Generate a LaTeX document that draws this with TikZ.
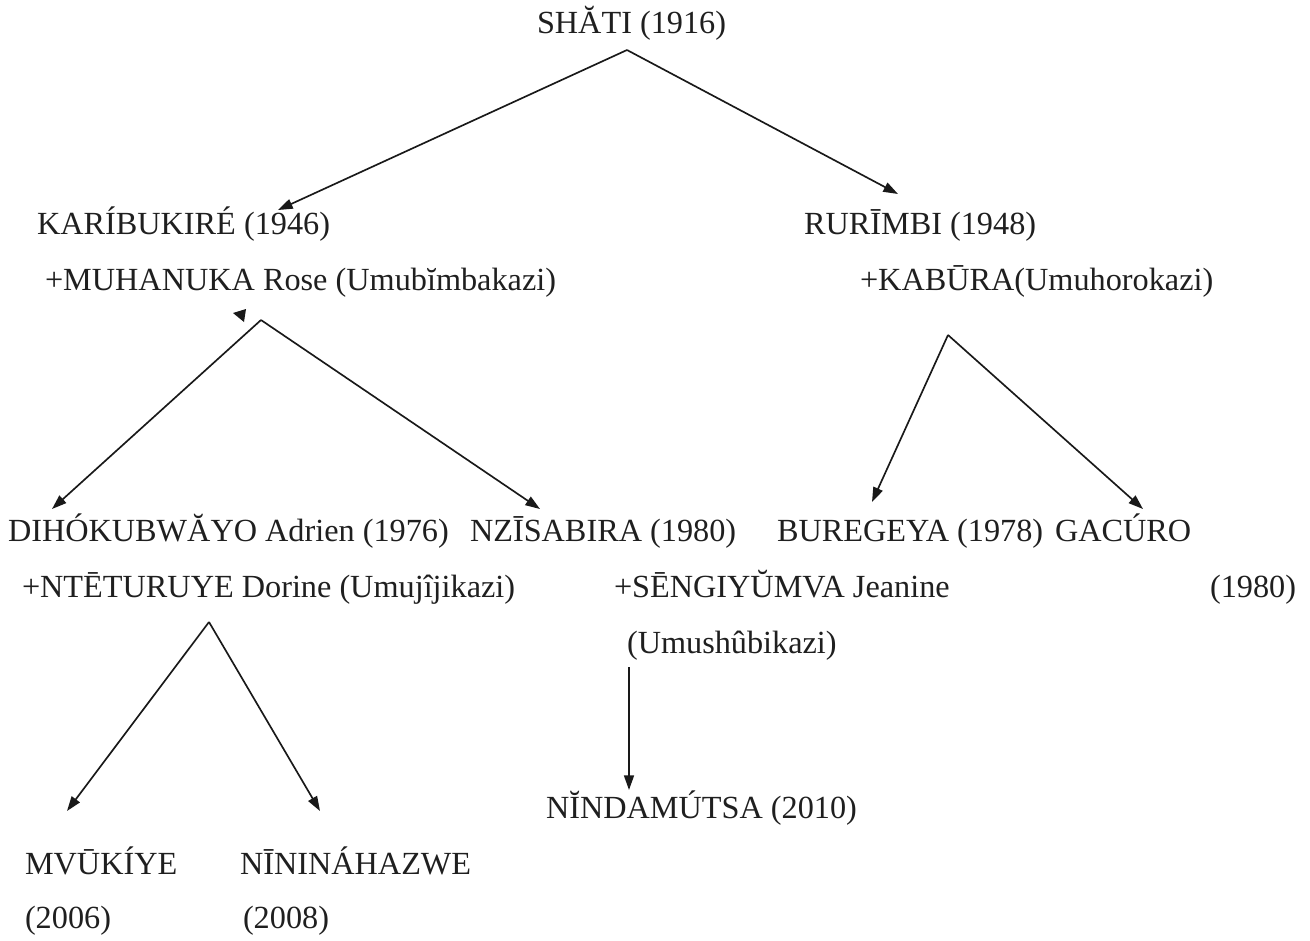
\documentclass[tikz,border=0pt]{standalone}
\usepackage{fontspec}
\setmainfont{Liberation Serif}
\usetikzlibrary{arrows.meta}
\begin{document}
\begin{tikzpicture}[x=0.75pt,y=-0.75pt,
  lbl/.style={anchor=base west,inner sep=0pt,outer sep=0pt,text=black!88,font=\fontsize{24.2}{28}\selectfont},
  arr/.style={draw=black!90,line width=1.25pt,-{Triangle[length=11pt,width=7.5pt]}}]
\useasboundingbox (0,0) rectangle (1310,940);
% text nodes
\node[lbl] (shati) at (537,33) {SHĂTI (1916)};
\node[lbl] (kari) at (37,234) {KARÍBUKIRÉ (1946)};
\node[lbl] (muha) at (45,290) {+MUHANUKA Rose (Umubĭmbakazi)};
\node[lbl] (rurimbi) at (804,234) {RURĪMBI (1948)};
\node[lbl] (kabura) at (860,290) {+KABŪRA(Umuhorokazi)};
\node[lbl] (diho) at (8,541) {DIHÓKUBWĂYO Adrien (1976)};
\node[lbl] (nteturuye) at (22,597) {+NTĒTURUYE Dorine (Umujîjikazi)};
\node[lbl] (nzisabira) at (470,541) {NZĪSABIRA (1980)};
\node[lbl] (sengi) at (614,597) {+SĒNGIYŬMVA Jeanine};
\node[lbl] (umushu) at (627,653) {(Umushûbikazi)};
\node[lbl] (buregeya) at (777,541) {BUREGEYA (1978)};
\node[lbl] (gacuro) at (1055,541) {GACÚRO};
\node[lbl] (gacyear) at (1210,597) {(1980)};
\node[lbl] (ninda) at (546,818) {NĬNDAMÚTSA (2010)};
\node[lbl] (mvukiye) at (25,874) {MVŪKÍYE};
\node[lbl] (mvyear) at (25,928) {(2006)};
\node[lbl] (nini) at (240,874) {NĪNINÁHAZWE};
\node[lbl] (niniyear) at (243,928) {(2008)};
% connector points
\coordinate (s0) at (627,50);
\coordinate (k0) at (261,320);
\coordinate (r0) at (948,335);
\coordinate (d0) at (209,622);
\coordinate (n0) at (629,667);
\coordinate (tk) at (278,210);
\coordinate (tr) at (898,194);
\coordinate (td) at (52,509);
\coordinate (tn) at (540,509);
\coordinate (tb) at (872,502);
\coordinate (tg) at (1143,509);
\coordinate (tm) at (67,811);
\coordinate (tz) at (320,811);
\coordinate (ti) at (629,790);
% connectors
\draw[arr] (s0) -- (tk);
\draw[arr] (s0) -- (tr);
\draw[arr] (k0) -- (td);
\draw[arr] (k0) -- (tn);
\draw[arr] (r0) -- (tb);
\draw[arr] (r0) -- (tg);
\draw[arr] (d0) -- (tm);
\draw[arr] (d0) -- (tz);
\draw[arr] (n0) -- (ti);
% stray mark
\fill[black!90] (233,313) -- (246,309) -- (244,322) -- cycle;
\end{tikzpicture}
\end{document}
